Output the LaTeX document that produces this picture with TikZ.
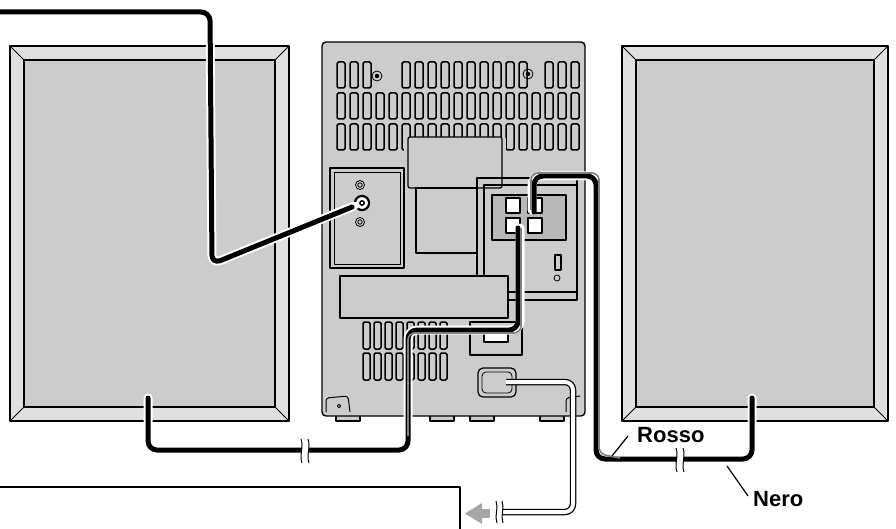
\documentclass[tikz,border=0pt]{standalone}
\usepackage{fontspec}
\setmainfont{Liberation Sans}
\colorlet{pan}{black!20}
\colorlet{bevc}{black!12}
\begin{document}
\begin{tikzpicture}[x=1pt,y=-1pt,line join=round,
  spk/.style={draw=black,line width=1.2pt,fill=pan},
  bev/.style={draw=black,line width=0.8pt},
  unit/.style={draw=black,line width=1.4pt,fill=pan,rounded corners=4pt},
  part/.style={draw=black,line width=1.2pt},
  slot/.style={draw=black,line width=1.5pt,fill=pan,rounded corners=1.5pt},
  cabout/.style={draw=white,line width=9pt,line cap=round,rounded corners=9pt},
  cab/.style={draw=black,line width=5pt,line cap=round,rounded corners=9pt},
  lbl/.style={font=\bfseries\fontsize{22}{25}\selectfont,inner sep=1pt}]
\useasboundingbox (0,0) rectangle (896,529);
% speakers
\foreach \a/\b in {10/289,622/888}{
  \fill[bevc,draw=black,line width=1.2pt] (\a,46) rectangle (\b,421);
  \draw[spk] (\a+14,60) rectangle (\b-14,407);
  \draw[bev] (\a,46)--(\a+14,60) (\b,46)--(\b-14,60) (\a,421)--(\a+14,407) (\b,421)--(\b-14,407);
}
% unit feet
\foreach \a in {336,430,470,540}{\draw[part,fill=pan] (\a,412) rectangle (\a+24,421);}
\draw[unit] (322,42) rectangle (585,416);
% top vents
\foreach \yy in {93,124}{
 \foreach \x in {337,350,363,376,389,402,415,428,441,454,467,480,493,506,519,532,545,558,571}{
   \draw[slot] (\x,\yy) rectangle (\x+8,\yy+26);
 }}
\foreach \x in {337,350,363,402,415,428,441,454,467,480,493,506,519,545,558,571}{
   \draw[slot] (\x,62) rectangle (\x+8,88);}
\fill[pan] (404,138) rectangle (506,160);
\draw[part,fill=pan,rounded corners=2pt] (408,137) rectangle (502,188);
\foreach \p in {(377,76),(528,74)}{
  \draw[line width=0.8pt] \p circle (5pt); \fill \p circle (2.2pt);}
% left plate
\draw[part,fill=pan] (330,168) rectangle (404,268);
\draw[line width=0.7pt] (334,172) rectangle (400,264);
\foreach \yy in {185,222}{\draw[line width=0.8pt] (360,\yy) circle (4.5pt); \draw[line width=0.8pt] (360,\yy) circle (2.2pt);}
\node[circle,draw,line width=2.2pt,fill=white,inner sep=5pt] (jack) at (362,203) {};
\draw[line width=1.4pt] (362,203) circle (2.2pt);
% middle
\draw[part] (416,188) rectangle (477,253);
\draw[part] (477,178) rectangle (577,300);
\draw[part] (484,185) rectangle (577,292);
\draw[part,fill=black!28] (492,195) rectangle (566,240);
\foreach \x in {506,528}{\foreach \yy in {198,218}{\draw[part,fill=white] (\x,\yy) rectangle (\x+14,\yy+15);}}
\draw[part] (555,255) rectangle (561,270);
\draw[line width=0.8pt] (557,278) circle (3pt);
% wide box
\draw[part,fill=pan] (340,276) rectangle (508,318);
% lower vents
\foreach \yy in {322,353}{\foreach \x in {363,374,385,396,407,418,429,440}{\draw[slot] (\x,\yy) rectangle (\x+7,\yy+27);}}
\draw[part] (470,322) rectangle (522,355);
\draw[part,fill=white] (484,332) rectangle (508,342);
% power socket
\draw[part,rounded corners=5pt] (478,368) rectangle (516,397);
\draw[line width=0.8pt,rounded corners=4pt] (482,372) rectangle (512,393);
% corner details
\draw[line width=1pt,rounded corners=3pt] (326,412) -- (326,398) -- (348,396) -- (350,412);
\draw[line width=0.8pt] (339,406) circle (1.8pt);
\draw[line width=1pt,rounded corners=3pt] (566,412) -- (566,398) -- (580,396);
% input cable
\draw[cabout] (0,12) -- (210,12) -- (212,264) -- (354,206);
\draw[cab] (0,12) -- (210,12) -- (212,264) -- (352,207);
% left speaker cable
\draw[cabout] (148,398) -- (148,450) -- (408,450) -- (408,330) -- (520,330) -- (520,228);
\draw[cab] (148,398) -- (148,450) -- (408,450) -- (408,330) -- (518,330) -- (518,228);
\draw[black!50,line width=1.6pt,rounded corners=7pt] (408,436) -- (408,333) -- (521,333) -- (521,228);
% right speaker cable
\draw[cabout] (532,210) -- (532,176) -- (596,176) -- (596,459) -- (752,459) -- (752,398);
\draw[cab] (534,212) -- (534,176) -- (596,176) -- (596,459) -- (752,459) -- (752,398);
\draw[black!50,line width=1.6pt,rounded corners=7pt] (531,210) -- (531,173) -- (599,173) -- (599,454) -- (620,458);
% cable breaks
\foreach \x/\yy in {305/450,680/459}{
  \fill[white] (\x-3,\yy-12) rectangle (\x+4,\yy+12);
  \draw[line width=1pt] (\x-4,\yy-11) .. controls (\x-1,\yy-3) and (\x-6,\yy+5) .. (\x-3,\yy+13);
  \draw[line width=1pt] (\x+3,\yy-11) .. controls (\x+6,\yy-3) and (\x+1,\yy+5) .. (\x+4,\yy+13);
}
% power cord
\draw[line width=6.5pt,rounded corners=8pt] (506,382) -- (573,382) -- (573,512) -- (498,512);
\draw[white,line width=4pt,rounded corners=8pt] (506,382) -- (573,382) -- (573,512) -- (498,512);
\fill[white] (492,502) rectangle (502,522);
\draw[line width=1pt] (496,501) .. controls (499,508) and (494,516) .. (497,523);
\draw[line width=1pt] (502,501) .. controls (505,508) and (500,516) .. (503,523);
\fill[black!35] (490,509) rectangle (480,518);
\fill[black!35] (482,503) -- (465,513.5) -- (482,524) -- cycle;
% box at bottom
\draw[line width=1.2pt] (0,487) -- (460,487) -- (460,529);
% labels
\node[lbl,anchor=west] (rosso) at (636,435) {Rosso};
\node[lbl,anchor=west] (nero) at (752,499) {Nero};
\draw[line width=1.2pt] (628,436) -- (612,456);
\draw[line width=1.2pt] (748,496) -- (727,466);
\end{tikzpicture}
\end{document}
